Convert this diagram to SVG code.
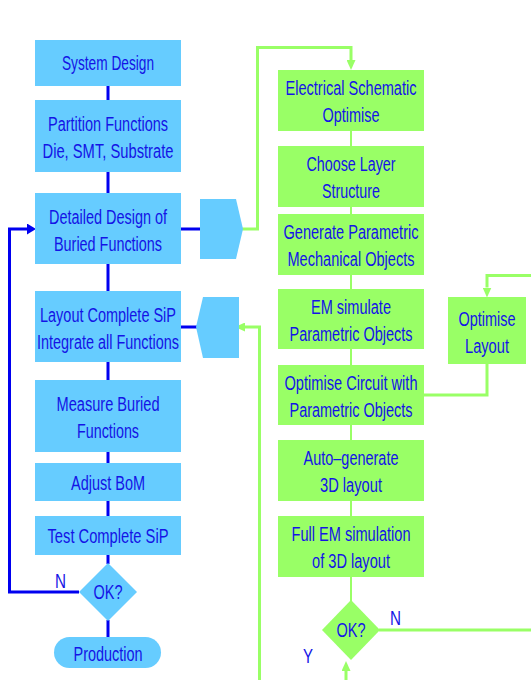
<svg xmlns="http://www.w3.org/2000/svg" width="531" height="680" viewBox="0 0 531 680">
<style>
.b{fill:#66ccff}
.g{fill:#99ff66}
text{font-family:"Liberation Sans Narrow","Liberation Sans",Arial,sans-serif;font-size:20px;fill:#1414e6;text-anchor:middle}
.lbl{text-anchor:start}
.cb{fill:none;stroke:#0000f0;stroke-width:3}
.cg{fill:none;stroke:#99ff66;stroke-width:3}
.cgt{fill:none;stroke:#99ff66;stroke-width:2}
</style>
<defs>
<marker id="ab" markerUnits="userSpaceOnUse" markerWidth="9" markerHeight="11" refX="0" refY="5.5" orient="auto" viewBox="0 0 9 11"><path d="M0,0 L9,5.5 L0,11 z" fill="#0000f0"/></marker>
<marker id="ag" markerUnits="userSpaceOnUse" markerWidth="10" markerHeight="9" refX="0" refY="4.5" orient="auto" viewBox="0 0 10 9"><path d="M0,0 L10,4.5 L0,9 z" fill="#99ff66"/></marker>
</defs>
<g id="connectors">
<path class="cb" d="M108,86V100M108,172V193M108,264V291M108,362V380M108,452V463M108,501V516M108,555V564M108,620V637"/>
<path class="cb" d="M181,229H201M181,327H197"/>
<path class="cb" d="M79,592H9.5V229H27" marker-end="url(#ab)"/>
<path class="cgt" d="M351,131V146M351,207V214M351,275V289M351,349V365M351,425V440M351,501V516M351,577V601"/>
<path class="cg" d="M242,229H257.5V47.5H351V60" marker-end="url(#ag)"/>
<path class="cg" d="M531,275.5H487V287.5" marker-end="url(#ag)"/>
<path class="cg" d="M424,395H487V364"/>
<path class="cg" d="M379,630H531"/>
<path class="cg" d="M346,680V671" marker-end="url(#ag)"/>
<path class="cg" d="M259.5,680V327H245" marker-end="url(#ag)"/>
</g>
<g id="system-design"><rect class="b" x="35" y="40" width="146" height="46"/><text x="108" y="70" textLength="92" lengthAdjust="spacingAndGlyphs">System Design</text></g>
<g id="partition"><rect class="b" x="35" y="100" width="146" height="72"/><text x="108" y="131" textLength="120" lengthAdjust="spacingAndGlyphs">Partition Functions</text><text x="108" y="158" textLength="131" lengthAdjust="spacingAndGlyphs">Die, SMT, Substrate</text></g>
<g id="detailed-design"><rect class="b" x="35" y="193" width="146" height="71"/><text x="108" y="224" textLength="118" lengthAdjust="spacingAndGlyphs">Detailed Design of</text><text x="108" y="251" textLength="108" lengthAdjust="spacingAndGlyphs">Buried Functions</text></g>
<g id="connector-out"><polygon class="b" points="200,199 236,199 243,229 236,259 200,259"/></g>
<g id="layout-complete"><rect class="b" x="35" y="291" width="146" height="71"/><text x="108" y="322" textLength="136" lengthAdjust="spacingAndGlyphs">Layout Complete SiP</text><text x="108" y="349" textLength="142" lengthAdjust="spacingAndGlyphs">Integrate all Functions</text></g>
<g id="connector-in"><polygon class="b" points="203,297 239,297 239,358 203,358 196,327"/></g>
<g id="measure"><rect class="b" x="35" y="380" width="146" height="72"/><text x="108" y="411" textLength="103" lengthAdjust="spacingAndGlyphs">Measure Buried</text><text x="108" y="438" textLength="62" lengthAdjust="spacingAndGlyphs">Functions</text></g>
<g id="adjust-bom"><rect class="b" x="35" y="463" width="146" height="38"/><text x="108" y="490" textLength="74" lengthAdjust="spacingAndGlyphs">Adjust BoM</text></g>
<g id="test"><rect class="b" x="35" y="516" width="146" height="39"/><text x="108" y="543" textLength="121" lengthAdjust="spacingAndGlyphs">Test Complete SiP</text></g>
<g id="ok-left"><polygon class="b" points="108,563 137,592 108,621 79,592"/><text x="108" y="599" textLength="29" lengthAdjust="spacingAndGlyphs">OK?</text><text class="lbl" x="55" y="588" textLength="11" lengthAdjust="spacingAndGlyphs">N</text></g>
<g id="production"><rect class="b" x="54" y="637" width="107" height="31" rx="15.5"/><text x="108" y="661" textLength="69" lengthAdjust="spacingAndGlyphs">Production</text></g>
<g id="electrical"><rect class="g" x="278" y="70" width="146" height="61"/><text x="351" y="95" textLength="131" lengthAdjust="spacingAndGlyphs">Electrical Schematic</text><text x="351" y="122" textLength="57" lengthAdjust="spacingAndGlyphs">Optimise</text></g>
<g id="choose-layer"><rect class="g" x="278" y="146" width="146" height="61"/><text x="351" y="171" textLength="89" lengthAdjust="spacingAndGlyphs">Choose Layer</text><text x="351" y="198" textLength="58" lengthAdjust="spacingAndGlyphs">Structure</text></g>
<g id="generate"><rect class="g" x="278" y="214" width="146" height="61"/><text x="351" y="239" textLength="135" lengthAdjust="spacingAndGlyphs">Generate Parametric</text><text x="351" y="266" textLength="127" lengthAdjust="spacingAndGlyphs">Mechanical Objects</text></g>
<g id="em-simulate"><rect class="g" x="278" y="289" width="146" height="60"/><text x="351" y="314" textLength="80" lengthAdjust="spacingAndGlyphs">EM simulate</text><text x="351" y="341" textLength="123" lengthAdjust="spacingAndGlyphs">Parametric Objects</text></g>
<g id="optimise-circuit"><rect class="g" x="278" y="365" width="146" height="60"/><text x="351" y="390" textLength="133" lengthAdjust="spacingAndGlyphs">Optimise Circuit with</text><text x="351" y="417" textLength="123" lengthAdjust="spacingAndGlyphs">Parametric Objects</text></g>
<g id="optimise-layout"><rect class="g" x="448" y="297" width="78" height="67"/><text x="487" y="326" textLength="57" lengthAdjust="spacingAndGlyphs">Optimise</text><text x="487" y="353" textLength="44" lengthAdjust="spacingAndGlyphs">Layout</text></g>
<g id="auto-generate"><rect class="g" x="278" y="440" width="146" height="61"/><text x="351" y="465" textLength="95" lengthAdjust="spacingAndGlyphs">Auto–generate</text><text x="351" y="492" textLength="62" lengthAdjust="spacingAndGlyphs">3D layout</text></g>
<g id="full-em"><rect class="g" x="278" y="516" width="146" height="61"/><text x="351" y="541" textLength="119" lengthAdjust="spacingAndGlyphs">Full EM simulation</text><text x="351" y="568" textLength="78" lengthAdjust="spacingAndGlyphs">of 3D layout</text></g>
<g id="ok-right"><polygon class="g" points="351,600 380,630 351,660 322,630"/><text x="351" y="637" textLength="29" lengthAdjust="spacingAndGlyphs">OK?</text><text class="lbl" x="390" y="625" textLength="11" lengthAdjust="spacingAndGlyphs">N</text><text class="lbl" x="303" y="663" textLength="10" lengthAdjust="spacingAndGlyphs">Y</text></g>
</svg>
